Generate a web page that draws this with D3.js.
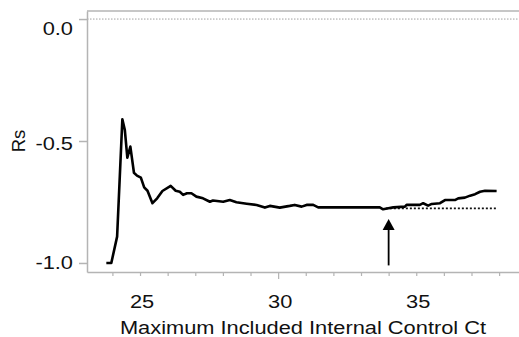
<!DOCTYPE html>
<html>
<head>
<meta charset="utf-8">
<script src="https://cdn.jsdelivr.net/npm/d3@7"></script>
<style>
  body { margin: 0; background: #fff; }
</style>
</head>
<body>
<div id="chart"></div>
<script>
// Rs vs maximum included internal control Ct
const ct = [23.78, 23.96, 24.17, 24.36, 24.45, 24.54, 24.65, 24.78, 24.89, 25.03,
    25.15, 25.27, 25.45, 25.62, 25.81, 26.11, 26.29, 26.44, 26.56, 26.70,
    26.86, 27.04, 27.28, 27.53, 27.64, 28.01, 28.25, 28.49, 28.86, 29.22,
    29.52, 29.70, 30.06, 30.42, 30.60, 30.85, 31.03, 31.27, 31.45, 33.68,
    33.80, 33.99, 34.17, 34.59, 34.65, 35.13, 35.25, 35.43, 35.56, 35.86,
    36.04, 36.40, 36.52, 36.76, 36.95, 37.13, 37.31, 37.49, 37.91];
const rs = [-1.0, -1.0, -0.892, -0.411, -0.455, -0.568, -0.523, -0.63, -0.642, -0.65,
    -0.69, -0.704, -0.755, -0.735, -0.705, -0.684, -0.704, -0.708, -0.721, -0.714,
    -0.714, -0.728, -0.735, -0.749, -0.744, -0.749, -0.742, -0.751, -0.757, -0.762,
    -0.773, -0.766, -0.773, -0.766, -0.762, -0.769, -0.762, -0.762, -0.772, -0.772,
    -0.78, -0.776, -0.772, -0.769, -0.762, -0.762, -0.755, -0.765, -0.758, -0.755,
    -0.742, -0.742, -0.735, -0.732, -0.724, -0.718, -0.708, -0.704, -0.705];

// flat continuation after the cutoff
const cutoffCt = [33.9, 37.9];
const cutoffRs = -0.776;
// arrow marking the cutoff
const arrowCt = 34;
const arrowRs = [-1.01, -0.82];

const xTicks = [24, 25, 26, 27, 28, 29, 30, 31, 32, 33, 34, 35, 36, 37, 38];
const xLabels = [25, 30, 35];
const yTicks = [0, -0.5, -1.0];

const width = 519, height = 337;
const axisColor = '#b4b4b4',
    fontFamily = '"Liberation Sans", Arial, sans-serif',
    fontSize = '18.5px',
    stretch = 'scale(1.18,1)'; // the source picture is a bit wider than tall

const svg = d3.select('#chart')
    .append('svg')
    .attr('width', width)
    .attr('height', height);

const x = d3.scaleLinear()
    .domain([23.08, 38.72])
    .range([87, 519]);

const y = d3.scaleLinear()
    .domain([-1.037, 0.033])
    .range([272, 11]);

// reference line at zero
svg.append('line')
    .attr('x1', x.range()[0]).attr('x2', x.range()[1])
    .attr('y1', y(0)).attr('y2', y(0))
    .attr('stroke', '#a0a0a0')
    .attr('stroke-width', 1)
    .attr('stroke-dasharray', '1.5,1.5');

// frame: top line
svg.append('line')
    .attr('x1', x.range()[0]).attr('x2', x.range()[1])
    .attr('y1', y.range()[1]).attr('y2', y.range()[1])
    .attr('stroke', axisColor)
    .attr('stroke-width', 1.5);

// y axis
const yAxis = svg.append('g')
    .attr('transform', 'translate(' + x.range()[0] + ',0)')
    .call(d3.axisLeft(y).tickValues(yTicks).tickSize(8).tickSizeOuter(0));

yAxis.select('.domain').attr('stroke', axisColor).attr('stroke-width', 1.5);
yAxis.selectAll('.tick line').attr('stroke', axisColor).attr('stroke-width', 1.5);

// labels sit a little under their ticks in the source, most at the top
const yLabelShift = d => d === 0 ? 10 : (d === -0.5 ? 3 : 0);
yAxis.selectAll('.tick text')
    .attr('x', 0)
    .attr('transform', d => 'translate(-14,' + yLabelShift(d) + ') ' + stretch)
    .style('font-size', fontSize)
    .style('font-family', fontFamily)
    .attr('fill', '#111')
    .text(d => d3.format('.1f')(d).replace('−', '-'));

// x axis
const xAxis = svg.append('g')
    .attr('transform', 'translate(0,' + y.range()[0] + ')')
    .call(d3.axisBottom(x).tickValues(xTicks).tickFormat('').tickSizeOuter(0));

xAxis.select('.domain').attr('stroke', axisColor).attr('stroke-width', 1.5);
xAxis.selectAll('.tick line')
    .attr('stroke', axisColor)
    .attr('stroke-width', 1.2)
    .attr('y2', d => d === 30 ? 7 : 4);

svg.append('g')
    .selectAll('text')
    .data(xLabels)
    .enter()
    .append('text')
    .attr('transform', d => 'translate(' + (x(d) + 2) + ',308) ' + stretch)
    .attr('text-anchor', 'middle')
    .style('font-size', fontSize)
    .style('font-family', fontFamily)
    .attr('fill', '#111')
    .text(d => d);

// axis titles
svg.append('text')
    .attr('transform', 'translate(303,334) ' + stretch)
    .attr('text-anchor', 'middle')
    .style('font-size', fontSize)
    .style('font-family', fontFamily)
    .attr('fill', '#111')
    .text('Maximum Included Internal Control Ct');

svg.append('text')
    .attr('transform', 'translate(25,' + y(-0.5) + ') rotate(-90)')
    .attr('text-anchor', 'middle')
    .style('font-size', fontSize)
    .style('font-family', fontFamily)
    .attr('fill', '#111')
    .text('Rs');

// dotted continuation
svg.append('line')
    .attr('x1', x(cutoffCt[0])).attr('x2', x(cutoffCt[1]))
    .attr('y1', y(cutoffRs)).attr('y2', y(cutoffRs))
    .attr('stroke', '#111')
    .attr('stroke-width', 1.8)
    .attr('stroke-dasharray', '2,2');

// main line
const points = ct.map((c, i) => [c, rs[i]]);
svg.append('path')
    .datum(points)
    .attr('fill', 'none')
    .attr('stroke', '#000')
    .attr('stroke-width', 2.6)
    .attr('stroke-linejoin', 'round')
    .attr('d', d3.line().x(d => x(d[0])).y(d => y(d[1])));

// arrow
const ax = x(arrowCt);
svg.append('line')
    .attr('x1', ax).attr('x2', ax)
    .attr('y1', y(arrowRs[0])).attr('y2', y(arrowRs[1]) + 8)
    .attr('stroke', '#000')
    .attr('stroke-width', 1.8);

svg.append('path')
    .attr('d', 'M' + ax + ',' + y(arrowRs[1]) + 'L' + (ax - 6) + ',' + (y(arrowRs[1]) + 11) + 'L' + (ax + 6) + ',' + (y(arrowRs[1]) + 11) + 'Z')
    .attr('fill', '#000');
</script>
</body>
</html>
